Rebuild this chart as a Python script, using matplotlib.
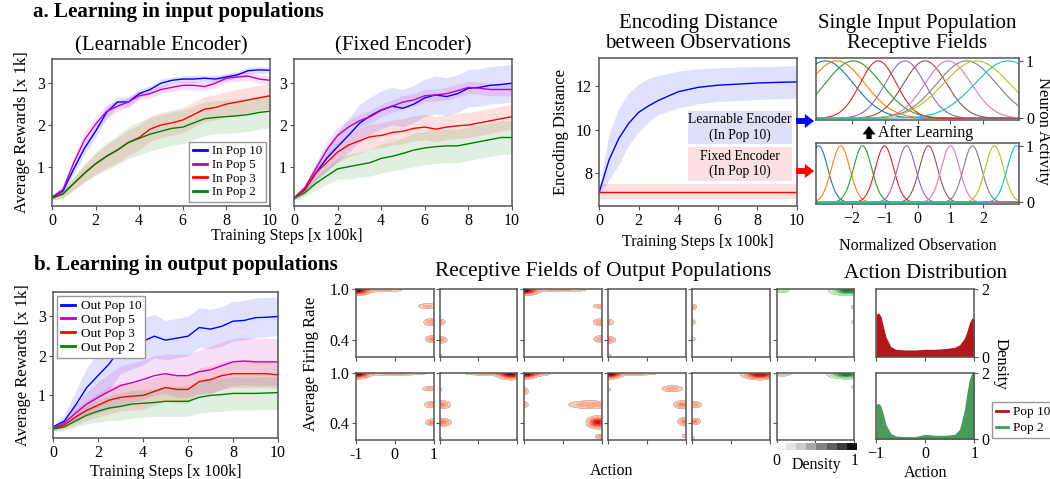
import numpy as np
import matplotlib
matplotlib.use("Agg")
import matplotlib.pyplot as plt
from matplotlib.patches import FancyArrowPatch, Rectangle
from matplotlib.lines import Line2D

plt.rcParams['font.family'] = ['Liberation Serif', 'DejaVu Serif']

# ---------------- data ----------------
steps = [0, 0.5, 1, 1.5, 2, 2.5, 3, 3.5, 4, 4.5, 5, 5.5, 6, 6.5, 7, 7.5, 8, 8.5, 9, 9.5, 10]

# a. learnable encoder
L_pop10 = [0.27, 0.42, 0.95, 1.45, 1.85, 2.3, 2.55, 2.55, 2.75, 2.85, 3.0, 3.07, 3.1, 3.1, 3.12, 3.1, 3.15, 3.2, 3.3, 3.32, 3.31]
L_pop5 = [0.27, 0.45, 1.1, 1.65, 2.02, 2.32, 2.45, 2.55, 2.7, 2.75, 2.85, 2.9, 2.95, 2.95, 2.92, 3.0, 3.12, 3.15, 3.17, 3.1, 3.07]
L_pop3 = [0.25, 0.35, 0.6, 0.85, 1.07, 1.25, 1.4, 1.58, 1.7, 1.9, 2.0, 2.05, 2.12, 2.25, 2.38, 2.42, 2.5, 2.55, 2.6, 2.65, 2.7]
L_pop2 = [0.25, 0.35, 0.6, 0.85, 1.07, 1.25, 1.4, 1.58, 1.68, 1.78, 1.85, 1.92, 1.95, 2.05, 2.15, 2.18, 2.2, 2.22, 2.25, 2.3, 2.33]
L_spread10 = [0.05, 0.08, 0.12, 0.15, 0.15, 0.15, 0.12, 0.12, 0.1, 0.1, 0.1, 0.08, 0.08, 0.08, 0.08, 0.08, 0.08, 0.08, 0.08, 0.08, 0.08]
L_spread5 = [0.05, 0.08, 0.15, 0.2, 0.18, 0.15, 0.12, 0.12, 0.1, 0.1, 0.1, 0.1, 0.1, 0.1, 0.1, 0.1, 0.1, 0.1, 0.1, 0.1, 0.1]
L_spread3 = [0.05, 0.1, 0.15, 0.2, 0.25, 0.28, 0.3, 0.3, 0.3, 0.3, 0.3, 0.3, 0.3, 0.3, 0.3, 0.3, 0.3, 0.3, 0.3, 0.3, 0.3]
L_spread2 = [0.05, 0.1, 0.15, 0.22, 0.28, 0.32, 0.35, 0.38, 0.4, 0.4, 0.4, 0.4, 0.4, 0.4, 0.4, 0.4, 0.4, 0.4, 0.4, 0.4, 0.4]

# a. fixed encoder
F_pop10 = [0.25, 0.45, 0.85, 1.2, 1.48, 1.75, 2.04, 2.22, 2.36, 2.45, 2.4, 2.5, 2.65, 2.72, 2.68, 2.75, 2.88, 2.9, 2.95, 2.97, 3.0]
F_pop5 = [0.25, 0.5, 0.95, 1.4, 1.75, 1.95, 2.1, 2.2, 2.35, 2.45, 2.55, 2.6, 2.7, 2.72, 2.75, 2.82, 2.9, 2.88, 2.85, 2.85, 2.85]
F_pop3 = [0.25, 0.45, 0.85, 1.1, 1.35, 1.52, 1.62, 1.72, 1.75, 1.82, 1.85, 1.92, 1.95, 1.9, 1.95, 1.98, 2.0, 2.05, 2.1, 2.15, 2.2]
F_pop2 = [0.25, 0.38, 0.6, 0.78, 0.95, 1.0, 1.05, 1.1, 1.2, 1.25, 1.32, 1.4, 1.45, 1.48, 1.5, 1.5, 1.55, 1.6, 1.65, 1.7, 1.7]
F_spread10 = [0.05, 0.1, 0.2, 0.3, 0.35, 0.4, 0.45, 0.45, 0.45, 0.45, 0.45, 0.45, 0.45, 0.45, 0.45, 0.45, 0.45, 0.45, 0.45, 0.45, 0.45]
F_spread5 = [0.05, 0.08, 0.15, 0.2, 0.2, 0.18, 0.15, 0.15, 0.15, 0.15, 0.15, 0.15, 0.15, 0.15, 0.15, 0.15, 0.15, 0.15, 0.15, 0.15, 0.15]
F_spread3 = [0.05, 0.1, 0.15, 0.2, 0.25, 0.28, 0.3, 0.3, 0.3, 0.3, 0.3, 0.3, 0.3, 0.3, 0.3, 0.3, 0.3, 0.3, 0.3, 0.3, 0.3]
F_spread2 = [0.05, 0.1, 0.15, 0.2, 0.25, 0.3, 0.3, 0.32, 0.35, 0.35, 0.38, 0.4, 0.4, 0.4, 0.4, 0.4, 0.4, 0.4, 0.4, 0.4, 0.4]

# b. output populations
O_pop10 = [0.2, 0.35, 0.75, 1.2, 1.5, 1.8, 2.2, 2.32, 2.37, 2.5, 2.4, 2.45, 2.5, 2.72, 2.68, 2.75, 2.88, 2.9, 2.97, 2.98, 3.0]
O_pop5 = [0.15, 0.3, 0.55, 0.78, 0.95, 1.1, 1.25, 1.32, 1.4, 1.5, 1.55, 1.5, 1.5, 1.6, 1.65, 1.75, 1.85, 1.87, 1.85, 1.85, 1.85]
O_pop3 = [0.15, 0.25, 0.45, 0.62, 0.75, 0.88, 0.95, 0.98, 1.0, 1.1, 1.2, 1.15, 1.15, 1.35, 1.4, 1.5, 1.55, 1.55, 1.55, 1.55, 1.52]
O_pop2 = [0.15, 0.2, 0.35, 0.5, 0.6, 0.68, 0.72, 0.78, 0.8, 0.82, 0.85, 0.85, 0.85, 0.95, 1.0, 1.02, 1.05, 1.05, 1.05, 1.06, 1.07]
O_spread10 = [0.05, 0.15, 0.35, 0.5, 0.6, 0.65, 0.65, 0.65, 0.6, 0.55, 0.5, 0.5, 0.5, 0.5, 0.5, 0.5, 0.5, 0.5, 0.5, 0.5, 0.48]
O_spread5 = [0.05, 0.1, 0.2, 0.3, 0.4, 0.45, 0.5, 0.5, 0.5, 0.5, 0.5, 0.55, 0.55, 0.55, 0.6, 0.6, 0.6, 0.6, 0.6, 0.6, 0.6]
O_spread3 = [0.05, 0.1, 0.2, 0.25, 0.3, 0.35, 0.35, 0.35, 0.35, 0.35, 0.35, 0.35, 0.35, 0.35, 0.35, 0.35, 0.35, 0.35, 0.35, 0.35, 0.35]
O_spread2 = [0.05, 0.08, 0.15, 0.22, 0.28, 0.32, 0.35, 0.35, 0.35, 0.35, 0.38, 0.38, 0.38, 0.4, 0.42, 0.42, 0.42, 0.42, 0.42, 0.42, 0.42]

# encoding distance
enc_steps = [0, 0.5, 1, 1.5, 2, 2.5, 3, 4, 5, 6, 7, 8, 9, 10]
enc_learn = [7.1, 8.6, 9.6, 10.3, 10.8, 11.1, 11.35, 11.75, 11.95, 12.05, 12.1, 12.15, 12.18, 12.2]
enc_learn_low = [7.0, 7.7, 8.4, 9.3, 9.9, 10.35, 10.7, 11.0, 11.2, 11.3, 11.35, 11.4, 11.42, 11.45]
enc_learn_high = [7.25, 9.8, 11.0, 11.7, 12.1, 12.35, 12.5, 12.7, 12.8, 12.85, 12.88, 12.9, 12.92, 12.95]
enc_fixed = [7.15] * len(enc_steps)
enc_fixed_low = [6.8] * len(enc_steps)
enc_fixed_high = [7.5] * len(enc_steps)

# receptive fields of single input population (Gaussian centres / widths)
rf_learned_centers = [-2.8, -2.45, -1.95, -1.19, -0.38, 0.23, 0.93, 1.49, 1.79, 2.75]
rf_learned_widths = [0.85, 0.85, 0.85, 0.55, 0.6, 0.65, 0.7, 0.9, 1.0, 1.0]
rf_fixed_centers = [-3.0, -2.333, -1.667, -1.0, -0.333, 0.333, 1.0, 1.667, 2.333, 3.0]
rf_fixed_widths = [0.275] * 10

# output receptive fields: blobs (action, firing rate, width_a, width_r, strength)
rf_out_row1 = [
    [(-0.95, 0.985, 0.17, 0.03, 1.0), (-0.3, 0.99, 0.35, 0.015, 0.3), (0.85, 0.80, 0.17, 0.022, 0.3), (0.95, 0.61, 0.13, 0.028, 0.4), (0.97, 0.41, 0.11, 0.025, 0.45)],
    [(-1.0, 0.61, 0.1, 0.025, 0.35), (-1.0, 0.40, 0.12, 0.025, 0.45), (-1.0, 0.21, 0.06, 0.015, 0.25)],
    [(-0.95, 0.985, 0.17, 0.03, 1.0), (-0.1, 0.99, 0.5, 0.015, 0.3), (0.95, 0.80, 0.12, 0.018, 0.3), (0.97, 0.61, 0.12, 0.025, 0.4), (0.97, 0.41, 0.11, 0.025, 0.4)],
    [(-1.0, 0.61, 0.1, 0.025, 0.3), (-1.0, 0.40, 0.12, 0.025, 0.45), (-1.0, 0.21, 0.06, 0.015, 0.25)],
    [(-1.0, 0.79, 0.08, 0.025, 0.3), (-1.0, 0.61, 0.06, 0.02, 0.3), (-1.0, 0.41, 0.06, 0.02, 0.25)],
    [(-0.9, 0.99, 0.15, 0.02, 0.4), (0.85, 0.985, 0.25, 0.03, 1.0), (1.0, 0.79, 0.06, 0.015, 0.3), (1.0, 0.61, 0.05, 0.015, 0.3)],
]
rf_out_row2 = [
    [(-0.95, 0.985, 0.17, 0.03, 1.0), (0.0, 0.99, 0.6, 0.015, 0.3), (0.9, 0.81, 0.13, 0.02, 0.3), (0.95, 0.62, 0.12, 0.025, 0.4), (0.97, 0.41, 0.11, 0.025, 0.45)],
    [(0.85, 0.985, 0.2, 0.035, 1.0), (0.2, 0.99, 0.4, 0.015, 0.3), (-1.0, 0.80, 0.05, 0.015, 0.25), (-0.95, 0.62, 0.15, 0.03, 0.45), (-0.95, 0.41, 0.15, 0.03, 0.5), (-1.0, 0.22, 0.05, 0.015, 0.25)],
    [(-0.95, 0.985, 0.17, 0.03, 1.0), (-0.6, 0.99, 0.2, 0.018, 0.3), (-1.0, 0.78, 0.08, 0.03, 0.3), (-1.0, 0.62, 0.08, 0.025, 0.3), (0.7, 0.62, 0.35, 0.03, 0.4), (0.9, 0.41, 0.15, 0.04, 0.9), (0.95, 0.24, 0.08, 0.02, 0.3)],
    [(-0.95, 0.985, 0.17, 0.03, 1.0), (-0.3, 0.99, 0.4, 0.015, 0.3), (-1.0, 0.80, 0.05, 0.015, 0.25), (0.65, 0.81, 0.18, 0.025, 0.35), (0.9, 0.62, 0.13, 0.03, 0.45), (0.95, 0.42, 0.1, 0.028, 0.45), (0.97, 0.25, 0.05, 0.015, 0.25)],
    [(0.75, 0.985, 0.25, 0.035, 1.0), (-0.95, 0.62, 0.12, 0.025, 0.4), (-0.95, 0.42, 0.1, 0.025, 0.45), (-1.0, 0.22, 0.05, 0.015, 0.25)],
    [(-0.85, 0.99, 0.15, 0.02, 0.4), (0.8, 0.985, 0.25, 0.03, 1.0), (1.0, 0.83, 0.05, 0.015, 0.3)],
]
rf_out_cmaps = ['Reds', 'Reds', 'Reds', 'Reds', 'Reds', 'Greens']

# action distribution
act_x = [-1, -0.95, -0.9, -0.85, -0.8, -0.7, -0.6, -0.4, -0.2, 0, 0.2, 0.4, 0.6, 0.7, 0.8, 0.85, 0.9, 0.95, 1.0]
act_pop10 = [1.25, 1.3, 1.2, 0.9, 0.6, 0.3, 0.22, 0.2, 0.2, 0.22, 0.22, 0.24, 0.28, 0.35, 0.55, 0.75, 1.0, 1.15, 1.12]
act_pop2 = [1.05, 1.08, 1.0, 0.75, 0.45, 0.18, 0.1, 0.08, 0.08, 0.15, 0.12, 0.12, 0.15, 0.3, 0.9, 1.4, 1.8, 2.0, 2.0]

pop_labels = ['10', '5', '3', '2']
line_colors = ['#0000ff', '#c000c0', '#ff0000', '#008000']

# ---------------- figure ----------------
W, H = 1050, 479
fig = plt.figure(figsize=(W / 100, H / 100), dpi=100)

def px_axes(l, t, r, b):
    return fig.add_axes([l / W, 1 - b / H, (r - l) / W, (b - t) / H])

def fx(x):
    return x / W

def fy(y):
    return 1 - y / H

SPINE = '#555555'
TICK = 11.5
XLAB = 11.5
YLAB = 12

def style(ax, size=TICK):
    for s in ax.spines.values():
        s.set_color(SPINE)
        s.set_linewidth(1.1)
    ax.tick_params(labelsize=size, length=3, width=0.8, color=SPINE, pad=2)

def reward_panel(ax, means, spreads, prefix, legend_loc=None, legsize=9.3):
    x = np.array(steps)
    for m, s, c, p in zip(means, spreads, line_colors, pop_labels):
        m = np.array(m); s = np.array(s)
        ax.fill_between(x, m - s, m + s, color=c, alpha=0.12, lw=0)
        ax.plot(x, m, color=c, lw=1.0, label=f'{prefix} {p}')
    ax.set_xlim(0, 10)
    ax.set_xticks([0, 2, 4, 6, 8, 10])
    ax.set_yticks([1, 2, 3])
    style(ax)
    if legend_loc:
        leg = ax.legend(loc=legend_loc, fontsize=legsize, handlelength=1.1, handletextpad=0.4,
                        borderpad=0.3, labelspacing=0.12, framealpha=1, edgecolor='#999999',
                        fancybox=False, borderaxespad=0.3)
        for h in leg.get_lines():
            h.set_linewidth(2)

# a1 learnable
ax1 = px_axes(52, 59, 270, 206)
reward_panel(ax1, [L_pop10, L_pop5, L_pop3, L_pop2], [L_spread10, L_spread5, L_spread3, L_spread2], 'In Pop', 'lower right', 9.3)
ax1.set_ylim(0.06, 3.58)
ax1.set_ylabel('Average Rewards [x 1k]', fontsize=YLAB, labelpad=5)
ax1.set_title('(Learnable Encoder)', fontsize=15, pad=6)

# a2 fixed
ax2 = px_axes(294, 59, 512, 206)
reward_panel(ax2, [F_pop10, F_pop5, F_pop3, F_pop2], [F_spread10, F_spread5, F_spread3, F_spread2], 'In Pop')
ax2.set_ylim(0.06, 3.58)
ax2.set_title('(Fixed Encoder)', fontsize=15, pad=6)
fig.text(fx(287), fy(236), 'Training Steps [x 100k]', fontsize=XLAB, ha='center', va='center')

# encoding distance
ax3 = px_axes(599, 58, 797, 206)
ax3.fill_between(enc_steps, enc_learn_low, enc_learn_high, color='#0000ff', alpha=0.12, lw=0)
ax3.plot(enc_steps, enc_learn, color='#0000ff', lw=1.0)
ax3.fill_between(enc_steps, enc_fixed_low, enc_fixed_high, color='#ff0000', alpha=0.12, lw=0)
ax3.plot(enc_steps, enc_fixed, color='#ff0000', lw=1.0)
ax3.set_xlim(0, 10)
ax3.set_ylim(6.5, 13.3)
ax3.set_xticks([0, 2, 4, 6, 8, 10])
ax3.set_yticks([8, 10, 12])
style(ax3)
ax3.set_ylabel('Encoding Distance', fontsize=YLAB, labelpad=5)
ax3.set_xlabel('Training Steps [x 100k]', fontsize=XLAB, labelpad=4)
ax3.set_title('Encoding Distance\nbetween Observations', fontsize=15, pad=7, linespacing=1.12)

# text boxes
fig.patches.append(Rectangle((fx(688), fy(144)), fx(792) - fx(688), fy(111) - fy(144),
                             transform=fig.transFigure, facecolor='#dedff9', edgecolor='none', zorder=5))
fig.text(fx(740), fy(127.5), 'Learnable Encoder\n(In Pop 10)', fontsize=9.8, ha='center', va='center',
         linespacing=1.15, zorder=6)
fig.patches.append(Rectangle((fx(688), fy(181)), fx(792) - fx(688), fy(147) - fy(181),
                             transform=fig.transFigure, facecolor='#fbe0e0', edgecolor='none', zorder=5))
fig.text(fx(740), fy(164), 'Fixed Encoder\n(In Pop 10)', fontsize=9.8, ha='center', va='center',
         linespacing=1.15, zorder=6)

def block_arrow(x0, y0, x1, y1, color, scale=12):
    a = FancyArrowPatch((fx(x0), fy(y0)), (fx(x1), fy(y1)), transform=fig.transFigure,
                        arrowstyle='simple,head_width=0.85,head_length=0.55,tail_width=0.35',
                        mutation_scale=scale, color=color, lw=0, shrinkA=0, shrinkB=0)
    fig.patches.append(a)

block_arrow(796, 121, 814, 121, '#0000ff')
block_arrow(796, 171, 814, 171, '#ff0000')
block_arrow(869, 139, 869, 126, 'black', scale=11)
fig.text(fx(878), fy(133), 'After Learning', fontsize=11.5, ha='left', va='center')

# receptive fields
xo = np.linspace(-3.08, 3.08, 400)
tab = plt.get_cmap('tab10')
ax4 = px_axes(816, 58, 1019, 120)
for i, (c, w) in enumerate(zip(rf_learned_centers, rf_learned_widths)):
    ax4.plot(xo, np.exp(-(xo - c) ** 2 / (2 * w ** 2)), color=tab(i), lw=0.8)
ax5 = px_axes(816, 143, 1019, 204)
for i, (c, w) in enumerate(zip(rf_fixed_centers, rf_fixed_widths)):
    ax5.plot(xo, np.exp(-(xo - c) ** 2 / (2 * w ** 2)), color=tab(i), lw=0.8)
for ax in (ax4, ax5):
    ax.set_xlim(-3.08, 3.08)
    ax.set_ylim(-0.03, 1.05)
    ax.set_xticks([-2, -1, 0, 1, 2])
    ax.set_yticks([0, 1])
    ax.yaxis.tick_right()
    style(ax)
ax4.set_xticklabels([])
ax4.set_title('Single Input Population\nReceptive Fields', fontsize=15, pad=7, linespacing=1.12)
ax5.set_xlabel('Normalized Observation', fontsize=XLAB, labelpad=8)
fig.text(fx(1043), fy(131), 'Neuron Activity', fontsize=YLAB, rotation=270, ha='center', va='center')

# section titles
fig.text(fx(33), fy(12), 'a. Learning in input populations', fontsize=15.2, fontweight='bold', ha='left', va='center')
fig.text(fx(34), fy(265), 'b. Learning in output populations', fontsize=15.2, fontweight='bold', ha='left', va='center')

# b1 output rewards
ax6 = px_axes(53, 292, 278, 438)
reward_panel(ax6, [O_pop10, O_pop5, O_pop3, O_pop2], [O_spread10, O_spread5, O_spread3, O_spread2], 'Out Pop', 'upper left', 9.5)
ax6.set_ylim(-0.08, 3.62)
ax6.set_ylabel('Average Rewards [x 1k]', fontsize=YLAB, labelpad=5)
ax6.set_xlabel('Training Steps [x 100k]', fontsize=XLAB, labelpad=2)

# output receptive fields
gx = np.linspace(-1, 1, 240)
gy = np.linspace(0.2, 1.0, 160)
GX, GY = np.meshgrid(gx, gy)
col_left = [356, 439.5, 524, 608.3, 692.3, 776.7]
row_tb = [(289.3, 356.7), (372.7, 440)]
levels = [0.12, 0.25, 0.4, 0.55, 0.7, 0.85, 1.0, 2.0]
for r, rows in enumerate([rf_out_row1, rf_out_row2]):
    for c, blobs in enumerate(rows):
        t, b = row_tb[r]
        ax = px_axes(col_left[c], t, col_left[c] + 77.5, b)
        Z = np.zeros_like(GX)
        for (x0, y0, sx, sy, a) in blobs:
            Z += a * np.exp(-((GX - x0) ** 2 / (2 * sx ** 2) + (GY - y0) ** 2 / (2 * sy ** 2)))
        ax.contourf(GX, GY, Z, levels=levels, cmap=rf_out_cmaps[c], vmin=-0.05, vmax=1.2)
        ax.contour(GX, GY, Z, levels=[0.12], colors='#b0a0a0', linewidths=0.35)
        ax.set_xlim(-1, 1)
        ax.set_ylim(0.2, 1.0)
        ax.set_xticks([-1, 0, 1])
        ax.set_yticks([0.4, 1.0])
        style(ax)
        if c == 0:
            ax.set_yticklabels(['0.4', '1.0'])
        else:
            ax.set_yticklabels([])
        if r == 1 and c == 0:
            ax.set_xticklabels(['-1', '0', '1'])
        else:
            ax.set_xticklabels([])
fig.text(fx(603), fy(271), 'Receptive Fields of Output Populations', fontsize=15.3, ha='center', va='center')
fig.text(fx(311), fy(364), 'Average Firing Rate', fontsize=YLAB, rotation=90, ha='center', va='center')
fig.text(fx(612), fy(471), 'Action', fontsize=XLAB, ha='center', va='center')

# density colour bar
axcb = px_axes(776, 443, 856, 450)
axcb.imshow((np.arange(8)[None, :] + 0.5) / 8, cmap='Greys', aspect='auto', vmin=0, vmax=1,
            extent=[0, 1, 0, 1])
axcb.set_xticks([]); axcb.set_yticks([])
for s in axcb.spines.values():
    s.set_visible(False)
fig.text(fx(776), fy(461), '0', fontsize=TICK, ha='center', va='center')
fig.text(fx(855), fy(461), '1', fontsize=TICK, ha='center', va='center')
fig.text(fx(816), fy(465), 'Density', fontsize=XLAB, ha='center', va='center')

# action distribution
ax7 = px_axes(876, 289.3, 974.3, 356.7)
ax7.fill_between(act_x, 0, act_pop10, color='#b2181b', lw=0)
ax8 = px_axes(876, 372.7, 974.3, 439.3)
ax8.fill_between(act_x, 0, act_pop2, color='#4a9a5e', lw=0)
for ax in (ax7, ax8):
    ax.set_xlim(-1, 1)
    ax.set_ylim(0, 2)
    ax.set_xticks([-1, 0, 1])
    ax.set_yticks([0, 2])
    ax.yaxis.tick_right()
    style(ax)
ax7.set_xticklabels([])
ax7.set_title('Action Distribution', fontsize=15, pad=8)
ax8.set_xlabel('Action', fontsize=XLAB, labelpad=2)
fig.text(fx(1001), fy(364), 'Density', fontsize=YLAB, rotation=270, ha='center', va='center')
handles = [Line2D([], [], color='#b2181b', lw=2), Line2D([], [], color='#4a9a5e', lw=2)]
fig.legend(handles, ['Pop 10', 'Pop 2'], loc='upper left', bbox_to_anchor=(fx(992), fy(402)),
           fontsize=9.5, handlelength=0.9, handletextpad=0.4, borderpad=0.3, labelspacing=0.3,
           framealpha=1, edgecolor='#999999', fancybox=False, borderaxespad=0)

fig.savefig('out.png', dpi=100)
